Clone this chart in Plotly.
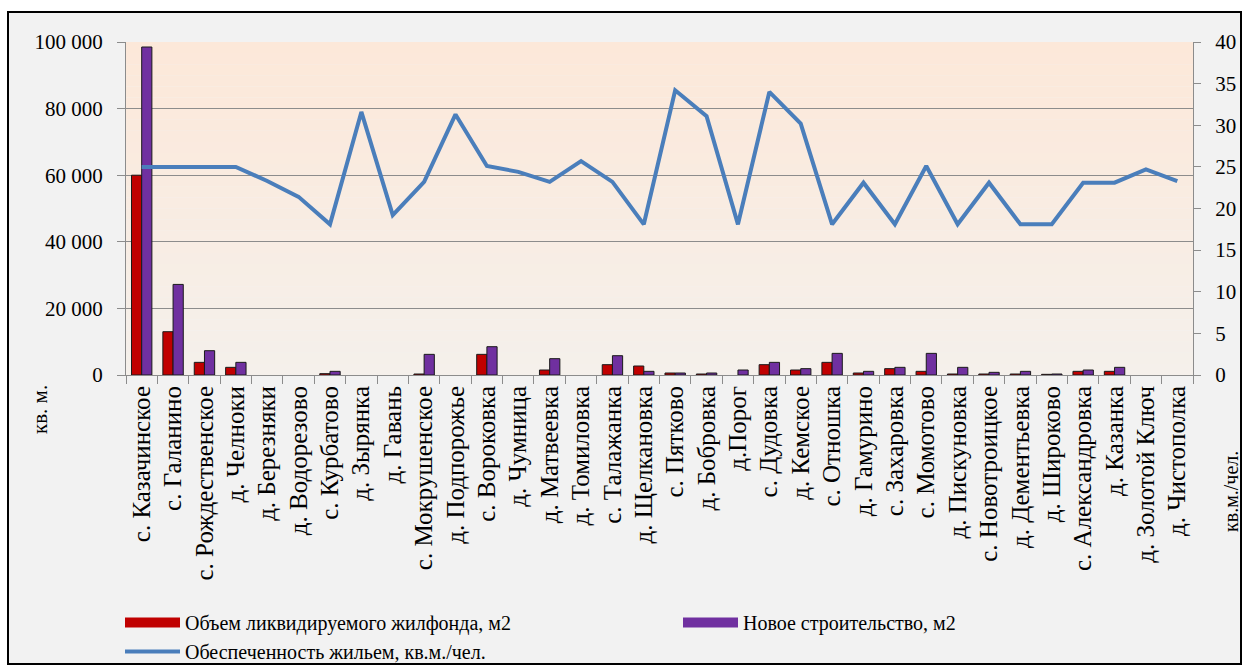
import plotly.graph_objects as go

categories = [
    "с. Казачинское", "с. Галанино", "с. Рождественское", "д. Челноки", "д. Березняки",
    "д. Водорезово", "с. Курбатово", "д. Зырянка", "д. Гавань", "с. Мокрушенское",
    "д. Подпорожье", "с. Вороковка", "д. Чумница", "д. Матвеевка", "д. Томиловка",
    "с. Талажанка", "д. Щелкановка", "с. Пятково", "д. Бобровка", "д.Порог",
    "с. Дудовка", "д. Кемское", "с. Отношка", "д. Гамурино", "с. Захаровка",
    "с. Момотово", "д. Пискуновка", "с. Новотроицкое", "д. Дементьевка", "д. Широково",
    "с. Александровка", "д. Казанка", "д. Золотой Ключ", "д. Чистополка",
]

demolished = [60000, 13000, 3800, 2300, 0, 0, 400, 0, 0, 300,
              0, 6200, 0, 1500, 0, 3100, 2700, 600, 300, 0,
              3100, 1500, 3800, 600, 1900, 1100, 300, 300, 300, 200,
              1100, 1100, 0, 0]

new_build = [98500, 27200, 7300, 3800, 0, 0, 1100, 0, 0, 6200,
             0, 8500, 0, 4900, 0, 5800, 1100, 600, 600, 1500,
             3800, 1900, 6500, 1100, 2300, 6500, 2300, 800, 1100, 300,
             1500, 2300, 0, 0]

provision = [25, 25, 25, 25, 23.3, 21.4, 18.1, 31.6, 19.2, 23.2,
             31.3, 25.1, 24.4, 23.2, 25.7, 23.2, 18.1, 34.2, 31.1, 18.1,
             34.0, 30.2, 18.1, 23.1, 18.1, 25.1, 18.1, 23.1, 18.1, 18.1,
             23.1, 23.1, 24.7, 23.3]

series_names = ["Объем ликвидируемого жилфонда, м2", "Новое строительство, м2",
                "Обеспеченность жильем, кв.м./чел."]

left_ticks = [0, 20000, 40000, 60000, 80000, 100000]
right_ticks = [0, 5, 10, 15, 20, 25, 30, 35, 40]

FONT = "Liberation Serif, Times New Roman, serif"
W, H = 1248, 670
L, R, T, B = 126, 55, 42, 295
PW = W - L - R
PH = H - T - B
RED, PURPLE, BLUE = "#c00000", "#7030a0", "#4a7ebb"


def px_x(p):
    return (p - L) / PW


def px_y(p):
    return (H - B - p) / PH


def outline_widths(values):
    return [1 if v else 0 for v in values]


fig = go.Figure()
fig.add_trace(go.Bar(
    x=categories, y=demolished, name=series_names[0], showlegend=False,
    marker=dict(color=RED, line=dict(color="#1a1a1a", width=outline_widths(demolished))),
))
fig.add_trace(go.Bar(
    x=categories, y=new_build, name=series_names[1], showlegend=False,
    marker=dict(color=PURPLE, line=dict(color="#1a1a1a", width=outline_widths(new_build))),
))
fig.add_trace(go.Scatter(
    x=categories, y=provision, yaxis="y2", mode="lines", showlegend=False,
    name=series_names[2], line=dict(color=BLUE, width=4),
))
# legend keys (wide blocks like the original chart's legend)
for name, color, width in [(series_names[0], RED, 13), (series_names[1], PURPLE, 13),
                           (series_names[2], BLUE, 4)]:
    fig.add_trace(go.Scatter(x=[None], y=[None], mode="lines", name=name,
                             line=dict(color=color, width=width), hoverinfo="skip"))

shapes = [dict(type="rect", xref="paper", yref="paper", layer="below",
               x0=px_x(8), x1=px_x(1241), y0=px_y(664), y1=px_y(12),
               fillcolor="#f2f2f2", line=dict(color="#000000", width=2))]
N = 30
top = (252, 232, 217)
bot = (245, 240, 235)
for i in range(N):
    t = i / (N - 1)
    c = tuple(round(bot[k] + (top[k] - bot[k]) * t) for k in range(3))
    shapes.append(dict(type="rect", xref="paper", yref="paper", layer="below",
                       x0=0, x1=1, y0=i / N, y1=(i + 1) / N,
                       fillcolor="rgb(%d,%d,%d)" % c, line=dict(width=0)))

fig.update_layout(
    width=W, height=H,
    margin=dict(l=L, r=R, t=T, b=B, autoexpand=False),
    paper_bgcolor="#ffffff",
    plot_bgcolor="rgba(0,0,0,0)",
    separators=". ",
    font=dict(family=FONT, color="#000000", size=20),
    barmode="group", bargap=0.35, bargroupgap=0,
    showlegend=True,
    legend=dict(
        orientation="h", x=px_x(120), y=px_y(603), xanchor="left", yanchor="top",
        font=dict(family=FONT, size=20), entrywidth=488, entrywidthmode="pixels",
        itemwidth=55, tracegroupgap=0, bgcolor="rgba(0,0,0,0)",
        traceorder="normal",
    ),
    xaxis=dict(
        type="category", tickangle=-90, tickfont=dict(family=FONT, size=25),
        ticks="outside", tickson="boundaries", ticklen=8, tickcolor="#8c8c8c",
        showline=True, linecolor="#8c8c8c", linewidth=1, showgrid=False,
        automargin=False,
    ),
    yaxis=dict(
        range=[0, 100000], tickvals=left_ticks, tickformat=",d",
        ticks="outside", ticklen=8, tickcolor="#8c8c8c",
        showline=True, linecolor="#8c8c8c", linewidth=1,
        showgrid=True, gridcolor="#8c8c8c", gridwidth=1, zeroline=False,
        tickfont=dict(family=FONT, size=21), ticklabelstandoff=10,
        automargin=False,
    ),
    yaxis2=dict(
        range=[0, 40], tickvals=right_ticks, overlaying="y", side="right",
        ticks="outside", ticklen=7, tickcolor="#8c8c8c",
        showline=True, linecolor="#8c8c8c", linewidth=1,
        showgrid=False, zeroline=False,
        tickfont=dict(family=FONT, size=21), ticklabelstandoff=10,
        automargin=False,
    ),
    shapes=shapes,
    annotations=[
        dict(text="кв. м.", xref="paper", yref="paper", x=px_x(40), y=px_y(410),
             showarrow=False, textangle=-90, font=dict(family=FONT, size=21),
             xanchor="center", yanchor="middle"),
        dict(text="кв.м./чел.", xref="paper", yref="paper", x=px_x(1231), y=px_y(492),
             showarrow=False, textangle=-90, font=dict(family=FONT, size=20),
             xanchor="center", yanchor="middle"),
    ],
)

fig.write_html("out.html", config={"displayModeBar": False},
               post_script="document.body.style.margin='0';")
